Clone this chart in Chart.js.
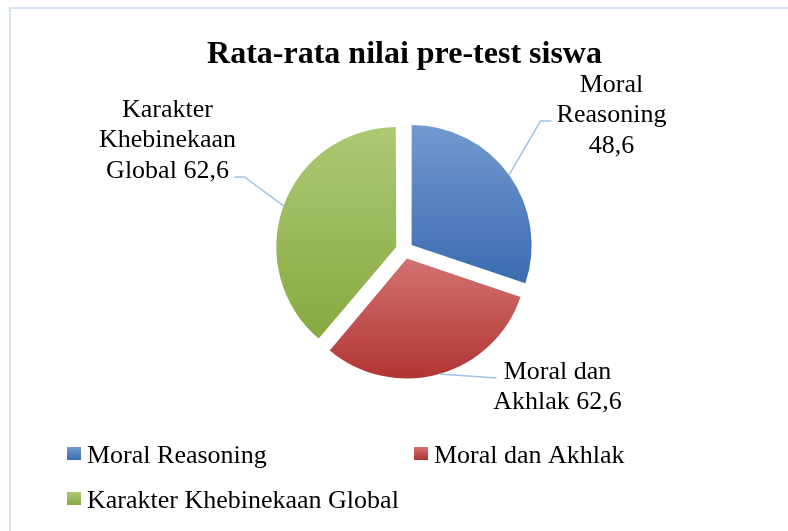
<!DOCTYPE html>
<html>
<head>
<meta charset="utf-8">
<title>Rata-rata nilai pre-test siswa</title>
<script src="https://cdn.jsdelivr.net/npm/chart.js@4.4.0/dist/chart.umd.min.js"></script>
<style>
  html, body { margin: 0; padding: 0; background: #fff; }
  #wrap { position: relative; width: 788px; height: 531px; overflow: hidden; }
  #frame { position: absolute; left: 9px; top: 7px; width: 800px; height: 540px;
           border-left: 2px solid #d6e3f3; border-top: 2px solid #d6e3f3; }
  canvas { position: absolute; left: 0; top: 0; }
</style>
</head>
<body>
<div id="wrap">
  <div id="frame"></div>
  <canvas id="pieChart" width="788" height="531"></canvas>
</div>
<script>
// data
var categories = ['Moral Reasoning', 'Moral dan Akhlak', 'Karakter Khebinekaan Global'];
// slice sizes as drawn in the picture (the red slice is drawn smaller than its printed label)
var values = [48.6, 49.8, 62.6];
// label text exactly as printed, broken over lines as in the picture
var labelLines = [
    ['Moral', 'Reasoning', '48,6'],
    ['Moral dan', 'Akhlak 62,6'],
    ['Karakter', 'Khebinekaan', 'Global 62,6']
];

// gradient stops per slice: [t0, colour0, t1, colour1]
var fillStops = [
    [0.0, '#7399d0', 0.65, '#3b6cb2'],
    [0.5, '#d17371', 1.0, '#b13533'],
    [0.0, '#adc974', 0.85, '#88ab42']
];
var pieRadius = 120;
var pieOffset = 35;

function sliceFill(c) {
    var chart = c.chart;
    var area = chart.chartArea;
    var s = fillStops[c.dataIndex];
    if (!area) return s[3];
    var cy = (area.top + area.bottom) / 2;
    var g = chart.ctx.createLinearGradient(0, cy - pieRadius, 0, cy + pieRadius);
    g.addColorStop(s[0], s[1]);
    g.addColorStop(s[2], s[3]);
    return g;
}

// chart.js grows wide exploded slices a little; keep all slices the same size
var evenRadius = {
    id: 'evenRadius',
    beforeDatasetsDraw: function (chart) {
        chart.getDatasetMeta(0).data.forEach(function (arc) {
            var off = (arc.options.offset || 0) / 4;
            var fix = 1 - Math.sin(Math.min(Math.PI, arc.endAngle - arc.startAngle));
            arc.outerRadius = pieRadius - off * fix;
        });
    }
};

// where each label sits, relative to the pie centre
var labelSpots = [
    { text: [207, -165], path: [[136, -129], [147, -129]] },
    { text: [153, 122], path: [[92, 128]] },
    { text: [-237, -140], path: [[-160, -73], [-170, -73]] }
];
var labelGap = 30.5;

var sliceLabels = {
    id: 'sliceLabels',
    afterDatasetsDraw: function (chart) {
        var ctx = chart.ctx;
        var arcs = chart.getDatasetMeta(0).data;
        ctx.save();
        ctx.font = '26px "Liberation Serif", "Times New Roman", serif';
        ctx.fillStyle = '#000';
        ctx.textAlign = 'center';
        ctx.textBaseline = 'middle';
        ctx.strokeStyle = '#a0c2e8';
        ctx.lineWidth = 1.5;
        arcs.forEach(function (arc, i) {
            var mid = (arc.startAngle + arc.endAngle) / 2;
            var r = pieRadius + (arc.options.offset || 0) / 4;
            var spot = labelSpots[i];
            ctx.beginPath();
            ctx.moveTo(arc.x + Math.cos(mid) * r, arc.y + Math.sin(mid) * r);
            spot.path.forEach(function (pt) {
                ctx.lineTo(arc.x + pt[0], arc.y + pt[1]);
            });
            ctx.stroke();
            labelLines[i].forEach(function (t, k) {
                ctx.fillText(t, arc.x + spot.text[0], arc.y + spot.text[1] + k * labelGap);
            });
        });
        ctx.restore();
    }
};

// legend laid out in two columns, as in the picture
var legendCols = [67, 414];
var legendRows = [454, 499];

var gridLegend = {
    id: 'gridLegend',
    afterDraw: function (chart) {
        var ctx = chart.ctx;
        ctx.save();
        ctx.font = '26px "Liberation Serif", "Times New Roman", serif';
        ctx.textAlign = 'left';
        ctx.textBaseline = 'middle';
        chart.data.labels.forEach(function (lab, i) {
            var x = legendCols[i % 2];
            var y = legendRows[Math.floor(i / 2)];
            var s = fillStops[i];
            var g = ctx.createLinearGradient(0, y - 7, 0, y + 6);
            g.addColorStop(0, s[1]);
            g.addColorStop(1, s[3]);
            ctx.fillStyle = g;
            ctx.fillRect(x, y - 7, 14, 13);
            ctx.fillStyle = '#000';
            ctx.fillText(lab, x + 20, y + 2);
        });
        ctx.restore();
    }
};

new Chart(document.getElementById('pieChart'), {
    type: 'pie',
    data: {
        labels: categories,
        datasets: [{
            data: values,
            backgroundColor: sliceFill,
            borderWidth: 0,
            offset: pieOffset,
            radius: pieRadius
        }]
    },
    options: {
        responsive: false,
        animation: false,
        layout: {
            padding: { left: 21, right: 0, top: 0, bottom: 114.9 }
        },
        plugins: {
            title: {
                display: true,
                text: 'Rata-rata nilai pre-test siswa',
                color: '#000',
                font: { family: '"Liberation Serif", "Times New Roman", serif', size: 32, weight: 'bold' },
                padding: { top: 35.5, bottom: 10 }
            },
            legend: { display: false },
            tooltip: { enabled: false }
        }
    },
    plugins: [evenRadius, sliceLabels, gridLegend]
});
</script>
</body>
</html>
